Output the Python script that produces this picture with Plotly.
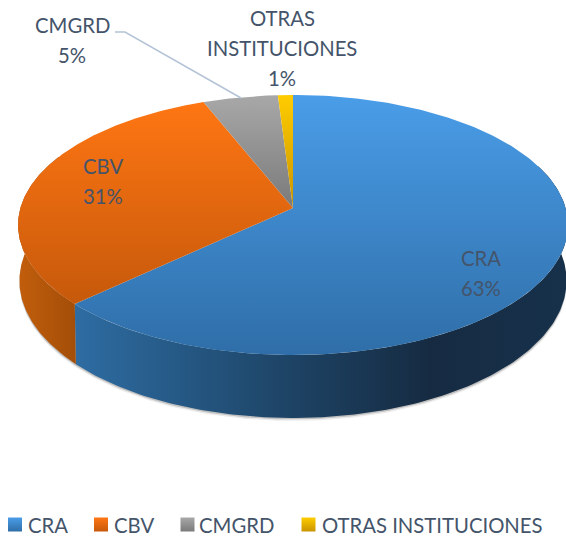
import numpy as np
import plotly.graph_objects as go

categories = ["CRA", "CBV", "CMGRD", "OTRAS INSTITUCIONES"]
values = [63, 31, 5, 1]
label_lines = [["CRA"], ["CBV"], ["CMGRD"], ["OTRAS", "INSTITUCIONES"]]
label_centers = [(481, 258), (103, 166), (72, 25), (282, 18)]

top_colors = [("#4A9DE8", "#2F6EA8"), ("#FF7613", "#C6590B"), ("#A8A8A8", "#7A7A7A"), ("#FFCC00", "#C99400")]
side_scales = [
    [[0, "#2E6CA2"], [0.2, "#265A87"], [0.45, "#1D4263"], [0.72, "#162B42"], [1, "#17314B"]],
    [[0, "#C25E0C"], [1, "#A34E08"]],
]
legend_x = [15, 101, 187.5, 308.5]
legend_text_x = [26, 112, 197, 320]
text_color = "#44546A"
FONT = "Lato"
FS = 20.3
LEGEND_FS = 20.3

# projection of the tilted disc (pixel-like axes)
CX, CY, A, B, K, DEPTH = 293.0, 208.0, 127.8, 272.6, 0.1307, 54.7


def ring(deg, bottom=False, extra=0.0):
    t = np.radians(deg)
    s, c = np.sin(t), np.cos(t)
    w = 1 + K * c
    if bottom:
        return CX + 0.995 * B * s / w, CY - A * c / w + DEPTH / w + extra
    return CX + B * s / w, CY - A * c / w


fracs = np.cumsum([0] + values) / sum(values) * 360.0
fig = go.Figure()

# soft shadow under the wall
front = np.linspace(70, 295, 200)
for extra, alpha in [(3.0, 0.10), (1.5, 0.25)]:
    tx, ty = ring(front)
    bx, by = ring(front, True, extra)
    fig.add_trace(go.Scatter(x=np.r_[tx, bx[::-1]], y=np.r_[ty, by[::-1]], mode="lines", fill="toself",
                             fillcolor=f"rgba(60,60,60,{alpha})", line=dict(width=0), hoverinfo="skip", showlegend=False))

# side walls
for i in range(2):
    lo, hi = max(fracs[i], 70), min(fracs[i + 1], 295)
    a = np.linspace(lo, hi, 160)
    tx, ty = ring(a)
    bx, by = ring(a, True)
    xs, ys = np.r_[tx, bx[::-1]], np.r_[ty, by[::-1]]
    fig.add_trace(go.Scatter(x=xs, y=ys, mode="lines", fill="toself", line=dict(width=0, color="rgba(0,0,0,0)"),
                             fillgradient=dict(type="horizontal", colorscale=side_scales[i]),
                             hoverinfo="skip", showlegend=False))

# top wedges
for i, name in enumerate(categories):
    a = np.linspace(fracs[i], fracs[i + 1], 240)
    ex, ey = ring(a)
    xs, ys = np.r_[CX, ex, CX], np.r_[CY, ey, CY]
    c0, c1 = top_colors[i]
    fig.add_trace(go.Scatter(x=xs, y=ys, mode="lines", fill="toself", line=dict(width=0, color="rgba(0,0,0,0)"),
                             fillgradient=dict(type="vertical", colorscale=[[0, c1], [1, c0]]),
                             name=name, hoverinfo="skip", showlegend=False))

# legend swatches
for i, name in enumerate(categories):
    fig.add_trace(go.Scatter(x=[legend_x[i]], y=[524.5], mode="markers", hoverinfo="skip", showlegend=False,
                             marker=dict(symbol="square", size=14, color=top_colors[i][0],
                                         gradient=dict(type="vertical", color=top_colors[i][1]),
                                         line=dict(width=0))))

ann = []
for i, name in enumerate(categories):
    lines = label_lines[i] + [f"{values[i]}%"]
    cx, cy = label_centers[i]
    for j, t in enumerate(lines):
        ann.append(dict(x=cx, y=cy + 30 * j, text=t, showarrow=False, xanchor="center", yanchor="middle",
                        font=dict(family=FONT, size=FS, color=text_color)))
    ann.append(dict(x=legend_text_x[i], y=524.5, text=name, showarrow=False, xanchor="left", yanchor="middle",
                    font=dict(family=FONT, size=LEGEND_FS, color=text_color)))

fig.update_layout(
    width=566, height=538, margin=dict(l=0, r=0, t=0, b=0),
    paper_bgcolor="white", plot_bgcolor="white", showlegend=False,
    xaxis=dict(range=[0, 566], visible=False, fixedrange=True),
    yaxis=dict(range=[538, 0], visible=False, fixedrange=True),
    annotations=ann,
    shapes=[dict(type="path", path="M 115 32 L 125 32 L 241 98", xref="x", yref="y",
                 line=dict(color="#B4C3D6", width=1.5))],
)
fig.write_html("out.html", config={"displayModeBar": False},
               post_script="document.body.style.margin='0';document.documentElement.style.overflow='hidden';")
